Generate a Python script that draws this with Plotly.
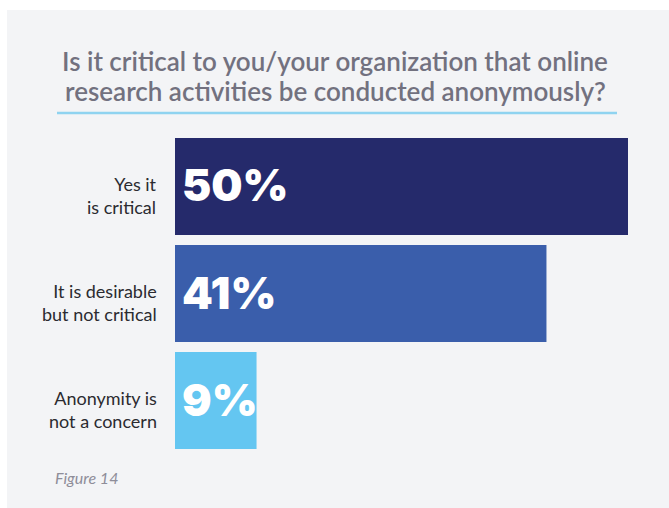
import plotly.graph_objects as go

categories = ["Yes it<br>is critical", "It is desirable<br>but not critical", "Anonymity is<br>not a concern"]
values = [50, 41, 9]
bar_colors = ["#252a6b", "#3a5eab", "#64c6f1"]
title_lines = ["Is it critical to you/your organization that online",
               "research activities be conducted anonymously?"]
figure_note = "Figure 14"

W, H = 669, 508
ML, MR, MT, MB = 175, 41, 138, 59
panel = "#f3f4f6"


def px(x):
    """Pixel column -> paper x."""
    return (x - ML) / (W - ML - MR)


def py(y):
    """Pixel row -> paper y."""
    return (H - MB - y) / (H - MT - MB)


fig = go.Figure(go.Bar(
    x=values,
    y=list(range(len(categories))),
    orientation="h",
    width=0.906,
    marker=dict(color=bar_colors, line=dict(width=0)),
    hoverinfo="skip",
))

# value labels at the left end of each bar, category labels left of the axis
for i, (cat, v) in enumerate(zip(categories, values)):
    fig.add_annotation(x=0, y=i, xref="x", yref="y", text=f"{v}%",
                       showarrow=False, xanchor="left", yanchor="middle",
                       xshift=5, yshift=1,
                       font=dict(family="Inter", size=44, color="white", weight=900))
    fig.add_annotation(x=0, y=i, xref="x", yref="y", text=cat,
                       showarrow=False, xanchor="right", yanchor="middle",
                       xshift=-16, yshift=-9, align="right",
                       font=dict(family="Lato", size=18, color="#2b2b30"))

# light panel behind the chart
fig.add_shape(type="rect", xref="paper", yref="paper", layer="below",
              x0=px(7), x1=px(669), y0=py(508), y1=py(10),
              fillcolor=panel, line=dict(width=0))

# title lines and the underline
for line, yc in zip(title_lines, [61, 91]):
    fig.add_annotation(xref="paper", yref="paper", x=px(335), y=py(yc),
                       yanchor="middle", xanchor="center",
                       text=line, showarrow=False,
                       font=dict(family="Lato", size=26, color="#72717f", weight=600))
fig.add_shape(type="line", xref="paper", yref="paper",
              x0=px(57), x1=px(617), y0=py(113), y1=py(113),
              line=dict(color="#8fd3f0", width=2.5))

fig.add_annotation(xref="paper", yref="paper", x=px(53), y=py(477),
                   xanchor="left", yanchor="middle",
                   text=f"<i>{figure_note}</i>", showarrow=False,
                   font=dict(family="Lato", size=16, color="#8e8d99"))

fig.update_layout(
    width=W, height=H,
    margin=dict(l=ML, r=MR, t=MT, b=MB),
    paper_bgcolor="white", plot_bgcolor=panel,
    showlegend=False,
    xaxis=dict(range=[0, 50], visible=False, fixedrange=True),
    yaxis=dict(range=[2.453, -0.453], visible=False, fixedrange=True),
)

fig.write_html("out.html")
